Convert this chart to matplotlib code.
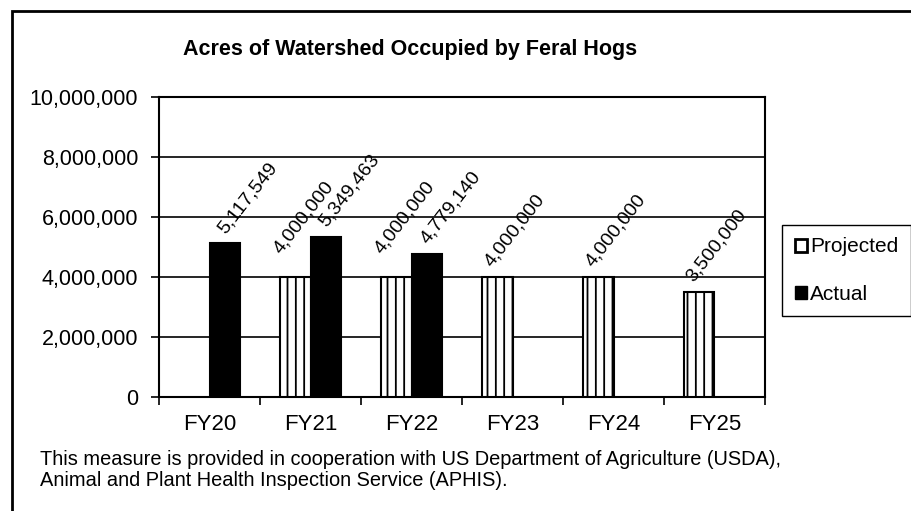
import matplotlib
matplotlib.use('Agg')
import matplotlib.pyplot as plt
import matplotlib.patches as mpatches
from matplotlib.ticker import FuncFormatter
import numpy as np

plt.rcParams['font.family'] = ['Liberation Sans', 'DejaVu Sans']
plt.rcParams['hatch.linewidth'] = 1.3

# data
years = ['FY20', 'FY21', 'FY22', 'FY23', 'FY24', 'FY25']
projected = [np.nan, 4000000, 4000000, 4000000, 4000000, 3500000]
actual = [5117549, 5349463, 4779140, np.nan, np.nan, np.nan]
y_ticks = [0, 2000000, 4000000, 6000000, 8000000, 10000000]

W, H = 911, 511
fig = plt.figure(figsize=(W / 100, H / 100), dpi=100)
ax = fig.add_axes([159 / W, 114 / H, 606 / W, 300 / H])

x = np.arange(len(years))
w = 0.3
b1 = ax.bar(x - 0.15, projected, w, color='white', edgecolor='black',
            linewidth=1.5, hatch='||', label='Projected', zorder=3)
b2 = ax.bar(x + 0.15, actual, w, color='black', edgecolor='black',
            linewidth=1.5, label='Actual', zorder=3)

# rotated data labels; projected labels next to an actual bar are
# pushed up-left so they don't run into the actual label (as Excel did)
for i in range(len(years)):
    for rect, v, off in ((b1[i], projected[i],
                          (-15, 23) if not np.isnan(actual[i]) else (-6, 10)),
                         (b2[i], actual[i], (1, 9))):
        if np.isnan(v):
            continue
        ax.annotate(f'{int(v):,}', (rect.get_x() + rect.get_width() / 2, v),
                    xytext=off, textcoords='offset pixels',
                    rotation=52, rotation_mode='anchor', ha='left', va='baseline',
                    fontsize=14, zorder=4)

ax.set_xlim(-0.5, 5.5)
ax.set_ylim(0, 10000000)
ax.set_yticks(y_ticks)
ax.yaxis.set_major_formatter(FuncFormatter(lambda v, p: f'{int(v):,}'))
ax.tick_params(axis='y', length=6, width=1.2, pad=9, labelsize=15.5)
ax.set_xticks(x)
ax.set_xticklabels(years)
ax.tick_params(axis='x', which='major', length=0, pad=12, labelsize=16)
ax.set_xticks(np.arange(-0.5, 6, 1), minor=True)
ax.tick_params(axis='x', which='minor', length=6, width=1.2, direction='out')
ax.yaxis.grid(True, color='black', linewidth=1.2, zorder=0)
ax.set_axisbelow(True)
for s in ax.spines.values():
    s.set_linewidth(1.5)
    s.set_color('black')

fig.text(410 / W, 1 - 50 / H, 'Acres of Watershed Occupied by Feral Hogs',
         ha='center', va='center', fontsize=15.5, fontweight='bold')

leg_handles = [
    mpatches.Patch(facecolor='white', edgecolor='black', linewidth=2),
    mpatches.Patch(facecolor='black', edgecolor='black', linewidth=1),
]
fig.legend(leg_handles, ['Projected', 'Actual'], loc='upper left',
           bbox_to_anchor=(782 / W, 1 - 225 / H), fontsize=15,
           frameon=True, fancybox=False, edgecolor='black', framealpha=1,
           handlelength=0.6, handleheight=0.6, handletextpad=0.15,
           labelspacing=1.35, borderpad=0.6, borderaxespad=0)

fig.text(40 / W, 1 - 465 / H,
         'This measure is provided in cooperation with US Department of Agriculture (USDA),',
         ha='left', va='baseline', fontsize=14.4)
fig.text(40 / W, 1 - 486 / H,
         'Animal and Plant Health Inspection Service (APHIS).',
         ha='left', va='baseline', fontsize=14.4)

# outer border of the chart area
fig.patches.append(mpatches.Rectangle((12 / W, -0.1), 1.2, 500 / H + 0.1,
                                      transform=fig.transFigure, fill=False,
                                      edgecolor='black', linewidth=2))

fig.savefig('out.png', dpi=100)
